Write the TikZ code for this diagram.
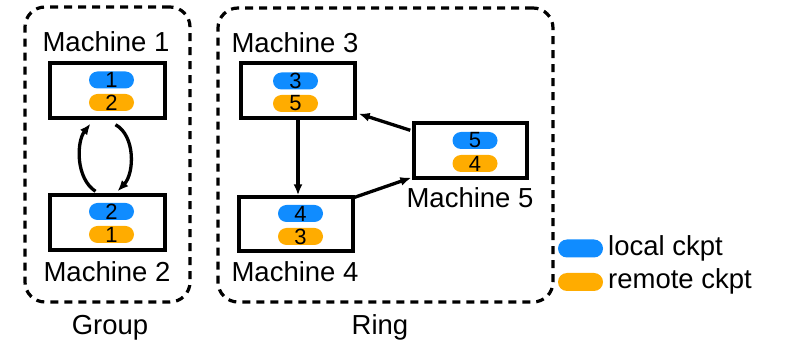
\documentclass[tikz,border=0pt]{standalone}
\usepackage{fontspec}
\setmainfont{Liberation Sans}
\usetikzlibrary{arrows.meta,shapes.misc}
\definecolor{ckblue}{RGB}{16,140,255}
\definecolor{ckorange}{RGB}{255,172,0}
\tikzset{
  grpbox/.style={draw, line width=3.2pt, dash pattern=on 8pt off 6pt, rounded corners=20pt, inner sep=0pt},
  machine/.style={draw, line width=3.4pt, inner sep=0pt},
  pill/.style={rounded rectangle, inner sep=0pt, minimum width=45pt, minimum height=17pt,
               font=\fontsize{22}{22}\selectfont},
  localpill/.style={pill, fill=ckblue},
  remotepill/.style={pill, fill=ckorange},
  lbl/.style={anchor=base, inner sep=0pt, font=\fontsize{27.5}{30}\selectfont},
  arr/.style={line width=3.3pt, -{Latex[length=11pt,width=9pt]}}
}
\begin{document}
\begin{tikzpicture}[x=1pt,y=-1pt]
\useasboundingbox (0,0) rectangle (785,344);

% group of two machines
\node[grpbox, minimum width=165pt, minimum height=295pt] (grp) at (107.5,154.5) {};
\node[machine, minimum width=115pt, minimum height=55pt] (m1) at (107.5,90.5) {};
\node[machine, minimum width=115pt, minimum height=55pt] (m2) at (107.5,222.5) {};
\node[localpill]  (m1a) at (111.5,80)    {1};
\node[remotepill] (m1b) at (111.5,102.5) {2};
\node[localpill]  (m2a) at (111.5,211.5) {2};
\node[remotepill] (m2b) at (111.5,234.5) {1};
\node[lbl] (m1l) at (106,52)  {Machine 1};
\node[lbl] (m2l) at (107,282) {Machine 2};
\node[lbl] (grpl) at (110,335) {Group};

\draw[arr] ([xshift=-12pt,yshift=2pt]m2.north) .. controls +(-20,-13) and +(-14,18) .. ([xshift=-17pt,yshift=-4pt]m1.south);
\draw[arr] ([xshift=8pt,yshift=-5pt]m1.south) .. controls +(20,11) and +(17,-18) .. ([xshift=10pt,yshift=2pt]m2.north);

% ring of three machines
\node[grpbox, minimum width=335pt, minimum height=294pt] (ring) at (385.5,155) {};
\node[machine, minimum width=114pt, minimum height=55pt] (m3) at (298,90.5) {};
\node[machine, minimum width=114pt, minimum height=54pt] (m4) at (296,224) {};
\node[machine, minimum width=113pt, minimum height=55pt] (m5) at (470.5,150.5) {};
\node[localpill]  (m3a) at (295.5,81)    {3};
\node[remotepill] (m3b) at (295.5,103.5) {5};
\node[localpill]  (m4a) at (300.5,213.5) {4};
\node[remotepill] (m4b) at (300.5,236.5) {3};
\node[localpill]  (m5a) at (475,140.5)   {5};
\node[remotepill] (m5b) at (475,163.5)   {4};
\node[lbl] (m3l) at (295,53)  {Machine 3};
\node[lbl] (m4l) at (295,282) {Machine 4};
\node[lbl] (m5l) at (470,208) {Machine 5};
\node[lbl] (ringl) at (380,335) {Ring};

\draw[arr] (m3.south) -- (m3.south |- m4.north);
\draw[arr] ([yshift=-2pt]m4.north east) -- ([xshift=-1pt,yshift=2pt]m5.south west);
\draw[arr] ([xshift=-2pt,yshift=-9pt]m5.north west) -- ([xshift=2pt,yshift=6pt]m3.south east);

% legend
\node[localpill, minimum height=18pt]  (lgl) at (580.5,248.5) {};
\node[remotepill, minimum height=18pt] (lgr) at (580.5,282)   {};
\node[lbl, anchor=base west] (lgltxt) at (608,256) {local ckpt};
\node[lbl, anchor=base west] (lgrtxt) at (608,289) {remote ckpt};
\end{tikzpicture}
\end{document}
